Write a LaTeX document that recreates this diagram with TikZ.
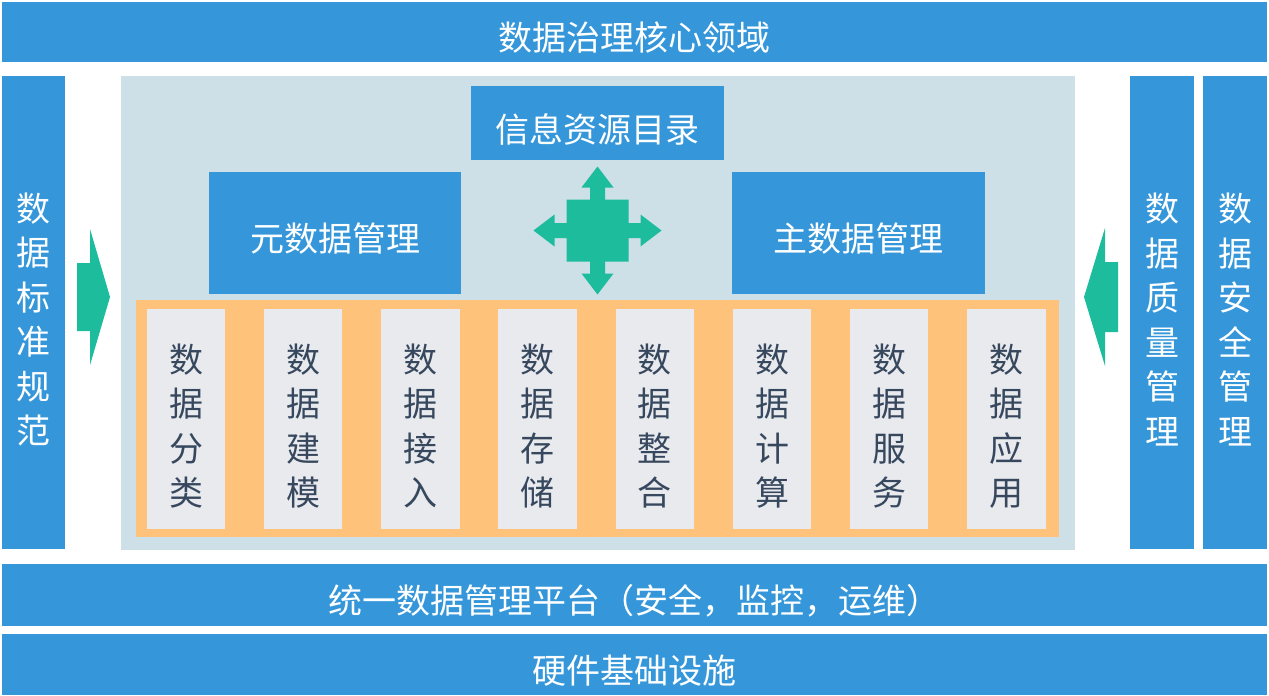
\documentclass[tikz,border=0pt]{standalone}
\usepackage{fontspec}
\newfontfamily\cjk{Noto Sans CJK SC}
\definecolor{mblue}{RGB}{53,151,218}
\definecolor{mlight}{RGB}{205,223,231}
\definecolor{morange}{RGB}{254,194,122}
\definecolor{mgray}{RGB}{232,234,238}
\definecolor{mteal}{RGB}{28,188,156}
\definecolor{mtext}{RGB}{55,72,94}
\newcommand\lowered[1]{\raisebox{-6pt}[\height][\depth]{#1}}
\newcommand\vstack[1]{\raisebox{-7pt}[\height][\depth]{\parbox{40pt}{\centering\fontsize{34pt}{44.5pt}\selectfont #1}}}
\tikzset{
  box/.style={rectangle, inner sep=0pt, outer sep=0pt, font=\cjk\fontsize{34pt}{40pt}\selectfont},
  bluebox/.style={box, fill=mblue, text=white},
  graybox/.style={box, fill=mgray, text=mtext, minimum width=78.5pt, minimum height=220pt},
  bgbox/.style={box, fill=mlight},
  orangebox/.style={box, fill=morange},
  arrowshape/.style={fill=mteal}
}
\begin{document}
\begin{tikzpicture}[x=1pt,y=-1pt]
\useasboundingbox[fill=white] (0,0) rectangle (1269,696);
% top
\node[bluebox, minimum width=1265pt, minimum height=60pt] (core) at (634.5,32) {\lowered{数据治理核心领域}};
% side bars
\node[bluebox, minimum width=63pt, minimum height=473pt] (std) at (33.5,312.5) {\vstack{数\\据\\标\\准\\规\\范}};
\node[bluebox, minimum width=64pt, minimum height=473pt] (qual) at (1162,312.5) {\vstack{数\\据\\质\\量\\管\\理}};
\node[bluebox, minimum width=64pt, minimum height=473pt] (sec) at (1235,312.5) {\vstack{数\\据\\安\\全\\管\\理}};
% background panel
\node[bgbox, minimum width=954pt, minimum height=474pt] (panel) at (598,313) {};
\node[orangebox, minimum width=923pt, minimum height=237pt] (func) at (597.5,418.5) {};
% top boxes
\node[bluebox, minimum width=253pt, minimum height=74pt] (catalog) at (597.5,123) {\lowered{信息资源目录}};
\node[bluebox, minimum width=252pt, minimum height=122pt] (meta) at (335,233) {\lowered{元数据管理}};
\node[bluebox, minimum width=253pt, minimum height=122pt] (master) at (858.5,233) {\lowered{主数据管理}};
% function boxes
\node[graybox] (f1) at (186.0,419) {\vstack{数\\据\\分\\类}};
\node[graybox] (f2) at (303.2,419) {\vstack{数\\据\\建\\模}};
\node[graybox] (f3) at (420.4,419) {\vstack{数\\据\\接\\入}};
\node[graybox] (f4) at (537.6,419) {\vstack{数\\据\\存\\储}};
\node[graybox] (f5) at (654.8,419) {\vstack{数\\据\\整\\合}};
\node[graybox] (f6) at (772.0,419) {\vstack{数\\据\\计\\算}};
\node[graybox] (f7) at (889.2,419) {\vstack{数\\据\\服\\务}};
\node[graybox] (f8) at (1006.4,419) {\vstack{数\\据\\应\\用}};
% bottom bars
\node[bluebox, minimum width=1265pt, minimum height=62pt] (platform) at (634.5,595) {\lowered{统一数据管理平台（安全，监控，运维）}};
\node[bluebox, minimum width=1265pt, minimum height=61pt] (hw) at (634.5,664.5) {\lowered{硬件基础设施}};
% side arrows
\fill[arrowshape] (77,263) -- (90,263) -- (90,229) -- (110,297) -- (90,365) -- (90,331) -- (77,331) -- cycle;
\fill[arrowshape] (1118,262) -- (1105,262) -- (1105,228) -- (1084,297) -- (1105,366) -- (1105,332) -- (1118,332) -- cycle;
% four-way arrow
\coordinate (hub) at (597.5,230.5);
\begin{scope}[shift={(hub)}]
\fill[arrowshape] (0,-64) -- (16,-43) -- (7.5,-43) -- (7.5,-31) -- (31,-31) -- (31,-7.5) -- (43,-7.5) -- (43,-16) -- (64,0) -- (43,16) -- (43,7.5) -- (31,7.5) -- (31,31) -- (7.5,31) -- (7.5,43) -- (16,43) -- (0,64) -- (-16,43) -- (-7.5,43) -- (-7.5,31) -- (-31,31) -- (-31,7.5) -- (-43,7.5) -- (-43,16) -- (-64,0) -- (-43,-16) -- (-43,-7.5) -- (-31,-7.5) -- (-31,-31) -- (-7.5,-31) -- (-7.5,-43) -- (-16,-43) -- cycle;
\end{scope}
\end{tikzpicture}
\end{document}
